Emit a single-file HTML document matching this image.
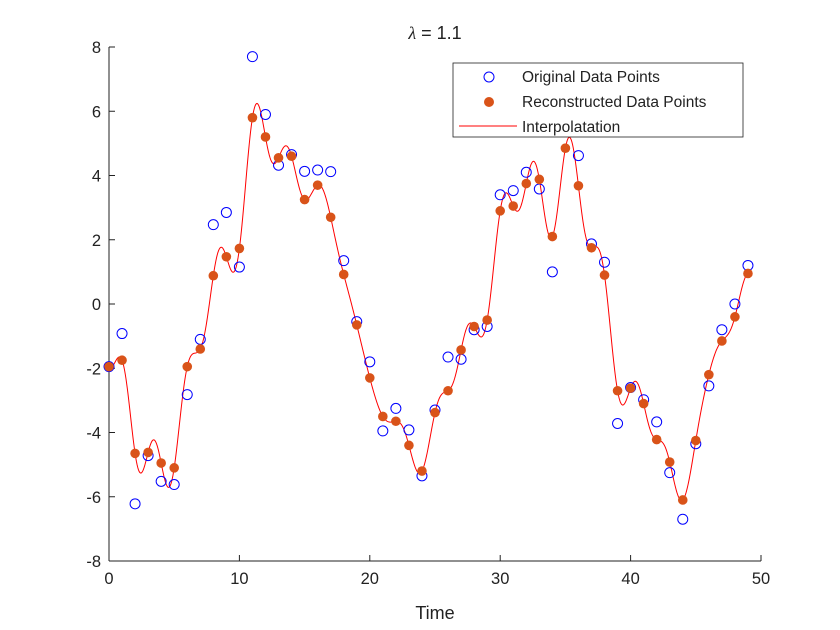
<!DOCTYPE html>
<html><head><meta charset="utf-8"><style>
body{margin:0;background:#fff;font-family:"Liberation Sans",sans-serif}
svg{display:block}
</style></head><body>
<svg id="chart" width="840" height="630" xmlns="http://www.w3.org/2000/svg">
<rect width="840" height="630" fill="#fff"/>
<g id="axes"></g>
<g id="series"></g>
<text x="435" y="39" text-anchor="middle" font-size="18" fill="#222"><tspan font-style="italic" font-family="Liberation Serif">λ</tspan> = 1.1</text>
<text x="435" y="619" text-anchor="middle" font-size="18" fill="#222">Time</text>
<g>
<rect x="453" y="63" width="290" height="74" fill="#fff" stroke="#222" stroke-width="0.8"/>
<g><circle cx="489" cy="77" r="5" fill="none" stroke="#0000ff" stroke-width="1"/><text x="522" y="82" font-size="15.5" fill="#222">Original Data Points</text></g>
<g><circle cx="489" cy="102" r="5" fill="#D95319"/><text x="522" y="107" font-size="15.5" fill="#222">Reconstructed Data Points</text></g>
<g><line x1="459" y1="126" x2="517" y2="126" stroke="#ff0000" stroke-width="1"/><text x="522" y="132" font-size="15.5" fill="#222">Interpolatation</text></g>
</g>
</svg>
<script>
const xs = [];
for (let i = 0; i < 50; i++) xs.push(i);
const original = [-1.95,-0.92,-6.22,-4.72,-5.52,-5.62,-2.82,-1.1,2.47,2.85,1.15,7.7,5.9,4.32,4.65,4.13,4.17,4.12,1.35,-0.55,-1.8,-3.95,-3.25,-3.92,-5.35,-3.3,-1.65,-1.72,-0.8,-0.7,3.4,3.53,4.1,3.58,1.0,5.8,4.62,1.87,1.3,-3.72,-2.6,-2.98,-3.67,-5.25,-6.7,-4.35,-2.55,-0.8,0.0,1.2];
const reconstructed = [-1.95,-1.75,-4.65,-4.62,-4.95,-5.1,-1.95,-1.4,0.88,1.47,1.73,5.8,5.2,4.55,4.6,3.25,3.7,2.7,0.92,-0.65,-2.3,-3.5,-3.65,-4.4,-5.2,-3.38,-2.7,-1.43,-0.7,-0.5,2.9,3.05,3.75,3.88,2.1,4.85,3.68,1.75,0.9,-2.7,-2.62,-3.1,-4.22,-4.92,-6.1,-4.25,-2.2,-1.15,-0.4,0.95];
const xTicks = [0,10,20,30,40,50];
const yTicks = [-8,-6,-4,-2,0,2,4,6,8];
const NS='http://www.w3.org/2000/svg';
const X0=109,X1=761,Y0=561,Y1=47;
const sx=v=>X0+(v-0)/(50-0)*(X1-X0);
const sy=v=>Y0-(v+8)/16*(Y0-Y1);
function mk(tag,attrs,parent){const e=document.createElementNS(NS,tag);for(const k in attrs)e.setAttribute(k,attrs[k]);parent.appendChild(e);return e;}
const ax=document.getElementById('axes');
let l=mk('line',{x1:X0,y1:Y0,x2:X1,y2:Y0,stroke:'#222','stroke-width':1},ax);


l=mk('line',{x1:X0,y1:Y0,x2:X0,y2:Y1,stroke:'#222','stroke-width':1},ax);


xTicks.forEach(t=>{const x=sx(t);
 mk('line',{x1:x,y1:Y0,x2:x,y2:Y0-6,stroke:'#222'},ax);
 const tx=mk('text',{x:x,y:Y0+23,'text-anchor':'middle','font-size':16.5,fill:'#222'},ax);tx.textContent=t;
 
 });
yTicks.forEach(t=>{const y=sy(t);
 mk('line',{x1:X0,y1:y,x2:X0+6,y2:y,stroke:'#222'},ax);
 const tx=mk('text',{x:X0-8,y:y+6,'text-anchor':'end','font-size':16.5,fill:'#222'},ax);tx.textContent=t;
 
 });
// band-limited (sinc) interpolation through reconstructed points
const n=xs.length;
function sinc(u){if(Math.abs(u)<1e-9)return 1;return Math.sin(Math.PI*u)/(Math.PI*u);}
let dstr='';
for(let i=0;i<n-1;i++){for(let k=0;k<=20;k++){const x=xs[i]+k/20;let y=0;
 for(let j=0;j<n;j++)y+=reconstructed[j]*sinc(x-xs[j]);
 dstr+=(dstr?'L':'M')+sx(x).toFixed(2)+','+sy(y).toFixed(2);}}
const sg=document.getElementById('series');
const p=mk('path',{d:dstr,fill:'none',stroke:'#ff0000','stroke-width':1},sg);


xs.forEach((x,i)=>{const c=mk('circle',{cx:sx(x),cy:sy(original[i]),r:5,fill:'none',stroke:'#0000ff','stroke-width':1},sg);
 
 });
xs.forEach((x,i)=>{const c=mk('circle',{cx:sx(x),cy:sy(reconstructed[i]),r:4.8,fill:'#D95319'},sg);
 
 });
</script>
</body></html>
